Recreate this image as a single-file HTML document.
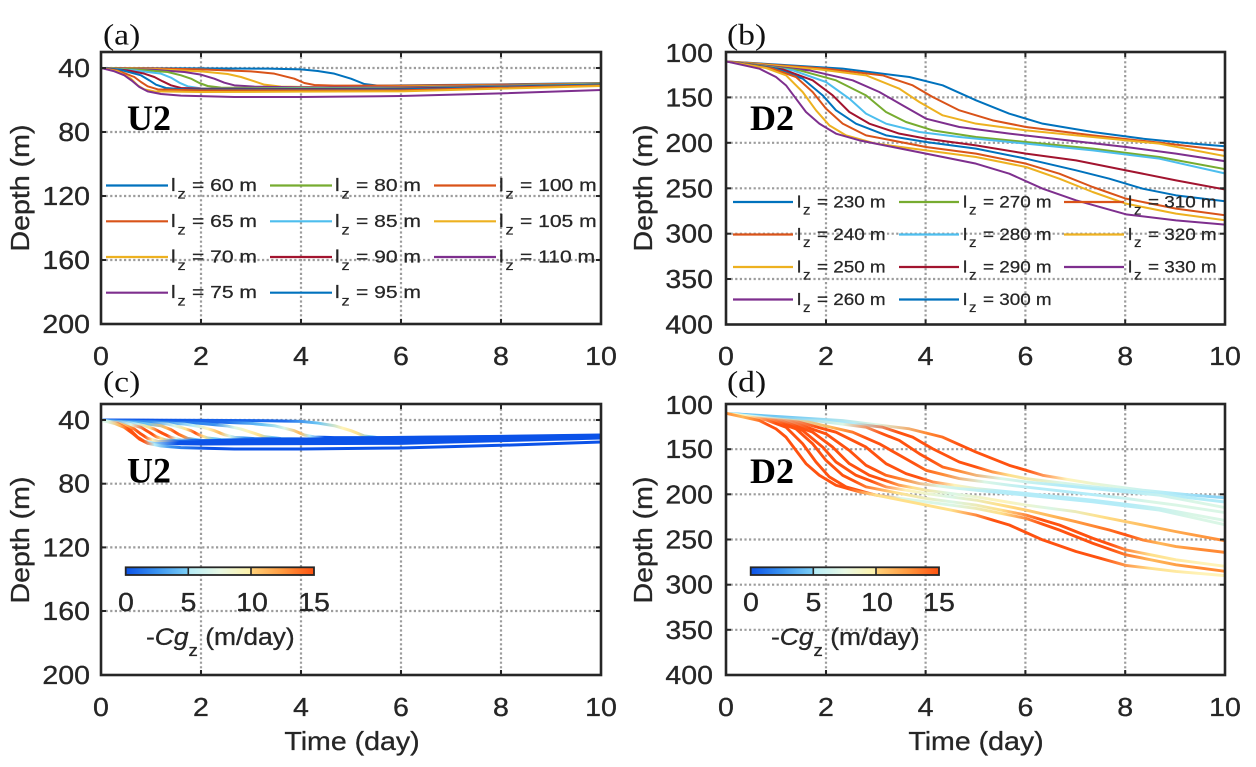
<!DOCTYPE html>
<html><head><meta charset="utf-8"><style>
html,body{margin:0;padding:0;background:#fff;}
svg{display:block;}
.tk{font-family:"Liberation Sans",Arial,sans-serif;font-size:25.5px;fill:#262626;stroke:#262626;stroke-width:0.3;}
.lg{font-family:"Liberation Sans",Arial,sans-serif;font-size:18px;fill:#262626;stroke:#262626;stroke-width:0.25;}
.lgs{font-family:"Liberation Sans",Arial,sans-serif;font-size:14px;fill:#262626;stroke:#262626;stroke-width:0.2;}
.lb{font-family:"Liberation Sans",Arial,sans-serif;font-size:17px;fill:#262626;stroke:#262626;stroke-width:0.25;}
.lbs{font-family:"Liberation Sans",Arial,sans-serif;font-size:13.5px;fill:#262626;stroke:#262626;stroke-width:0.2;}
.pl{font-family:"Liberation Serif","Times New Roman",serif;font-size:30px;fill:#111;}
.bd{font-family:"Liberation Serif","Times New Roman",serif;font-size:36px;font-weight:bold;fill:#000;}
.grid line{stroke:#9c9c9c;stroke-width:2.2;stroke-dasharray:2.2 2.4;}
.tkm line{stroke:#262626;stroke-width:2;}
.cv{fill:none;stroke-linejoin:round;stroke-linecap:butt;}
</style></head><body>
<svg width="1256" height="767" viewBox="0 0 1256 767" xmlns="http://www.w3.org/2000/svg">
<defs>
<clipPath id="ca"><rect x="101" y="52" width="500" height="272"/></clipPath>
<clipPath id="cb"><rect x="726" y="52" width="499" height="272.5"/></clipPath>
<clipPath id="cc"><rect x="101" y="404" width="500" height="271"/></clipPath>
<clipPath id="cd"><rect x="726" y="404" width="499" height="271"/></clipPath>
<linearGradient id="cb1" x1="0" x2="1" y1="0" y2="0"><stop offset="0" stop-color="#0b52e8"/><stop offset="0.5" stop-color="#3a93f0"/><stop offset="1" stop-color="#7ccff6"/></linearGradient>
<linearGradient id="cb2" x1="0" x2="1" y1="0" y2="0"><stop offset="0" stop-color="#b4ecf8"/><stop offset="0.5" stop-color="#e8f8e4"/><stop offset="1" stop-color="#fff2a8"/></linearGradient>
<linearGradient id="cb3" x1="0" x2="1" y1="0" y2="0"><stop offset="0" stop-color="#ffd27a"/><stop offset="0.5" stop-color="#ff9a40"/><stop offset="1" stop-color="#ff5210"/></linearGradient>
<linearGradient id="g60" gradientUnits="userSpaceOnUse" x1="0" y1="0" x2="1500" y2="0"><stop offset="0" stop-color="#0b52e8"/><stop offset=".367" stop-color="#1f6cec"/><stop offset=".433" stop-color="#6cc6f4"/><stop offset=".483" stop-color="#fff3b8"/><stop offset=".513" stop-color="#ffe08a"/><stop offset=".54" stop-color="#6cc6f4"/><stop offset=".573" stop-color="#0b52e8"/><stop offset="1" stop-color="#0b52e8"/></linearGradient>
<linearGradient id="g65" gradientUnits="userSpaceOnUse" x1="0" y1="0" x2="1500" y2="0"><stop offset="0" stop-color="#0b52e8"/><stop offset=".1" stop-color="#0b52e8"/><stop offset=".25" stop-color="#1f6cec"/><stop offset=".323" stop-color="#6cc6f4"/><stop offset=".367" stop-color="#daf6e6"/><stop offset=".397" stop-color="#ffb85a"/><stop offset=".417" stop-color="#b4ecf8"/><stop offset=".447" stop-color="#0b52e8"/><stop offset="1" stop-color="#0b52e8"/></linearGradient>
<linearGradient id="g70" gradientUnits="userSpaceOnUse" x1="0" y1="0" x2="1500" y2="0"><stop offset="0" stop-color="#0b52e8"/><stop offset=".05" stop-color="#0b52e8"/><stop offset=".15" stop-color="#1f6cec"/><stop offset=".227" stop-color="#3a93f0"/><stop offset=".267" stop-color="#daf6e6"/><stop offset=".293" stop-color="#fff3b8"/><stop offset=".317" stop-color="#ffe08a"/><stop offset=".343" stop-color="#6cc6f4"/><stop offset=".4" stop-color="#0b52e8"/><stop offset="1" stop-color="#0b52e8"/></linearGradient>
<linearGradient id="g75" gradientUnits="userSpaceOnUse" x1="0" y1="0" x2="1500" y2="0"><stop offset="0" stop-color="#1f6cec"/><stop offset=".05" stop-color="#1f6cec"/><stop offset=".133" stop-color="#3a93f0"/><stop offset=".183" stop-color="#b4ecf8"/><stop offset=".213" stop-color="#fff3b8"/><stop offset=".237" stop-color="#ffb85a"/><stop offset=".257" stop-color="#daf6e6"/><stop offset=".287" stop-color="#3a93f0"/><stop offset=".333" stop-color="#0b52e8"/><stop offset="1" stop-color="#0b52e8"/></linearGradient>
<linearGradient id="g80" gradientUnits="userSpaceOnUse" x1="0" y1="0" x2="1500" y2="0"><stop offset="0" stop-color="#1f6cec"/><stop offset=".033" stop-color="#1f6cec"/><stop offset=".1" stop-color="#3a93f0"/><stop offset=".147" stop-color="#daf6e6"/><stop offset=".17" stop-color="#ffe08a"/><stop offset=".188" stop-color="#ff5210"/><stop offset=".205" stop-color="#ffe08a"/><stop offset=".227" stop-color="#6cc6f4"/><stop offset=".28" stop-color="#0b52e8"/><stop offset="1" stop-color="#0b52e8"/></linearGradient>
<linearGradient id="g85" gradientUnits="userSpaceOnUse" x1="0" y1="0" x2="1500" y2="0"><stop offset="0" stop-color="#3a93f0"/><stop offset=".033" stop-color="#3a93f0"/><stop offset=".093" stop-color="#6cc6f4"/><stop offset=".13" stop-color="#ffb85a"/><stop offset=".148" stop-color="#ff5210"/><stop offset=".165" stop-color="#ff8a35"/><stop offset=".187" stop-color="#6cc6f4"/><stop offset=".233" stop-color="#0b52e8"/><stop offset="1" stop-color="#0b52e8"/></linearGradient>
<linearGradient id="g90" gradientUnits="userSpaceOnUse" x1="0" y1="0" x2="1500" y2="0"><stop offset="0" stop-color="#3a93f0"/><stop offset=".027" stop-color="#3a93f0"/><stop offset=".07" stop-color="#b4ecf8"/><stop offset=".097" stop-color="#ffe08a"/><stop offset=".115" stop-color="#ff5210"/><stop offset=".132" stop-color="#ff5210"/><stop offset=".15" stop-color="#daf6e6"/><stop offset=".18" stop-color="#1f6cec"/><stop offset=".233" stop-color="#0b52e8"/><stop offset="1" stop-color="#0b52e8"/></linearGradient>
<linearGradient id="g95" gradientUnits="userSpaceOnUse" x1="0" y1="0" x2="1500" y2="0"><stop offset="0" stop-color="#3a93f0"/><stop offset=".02" stop-color="#3a93f0"/><stop offset=".06" stop-color="#daf6e6"/><stop offset=".088" stop-color="#ff5210"/><stop offset=".103" stop-color="#ff5210"/><stop offset=".12" stop-color="#ffe08a"/><stop offset=".148" stop-color="#3a93f0"/><stop offset=".2" stop-color="#0b52e8"/><stop offset="1" stop-color="#0b52e8"/></linearGradient>
<linearGradient id="g100" gradientUnits="userSpaceOnUse" x1="0" y1="0" x2="1500" y2="0"><stop offset="0" stop-color="#b4ecf8"/><stop offset=".017" stop-color="#b4ecf8"/><stop offset=".05" stop-color="#ffb85a"/><stop offset=".073" stop-color="#ff5210"/><stop offset=".087" stop-color="#ff5210"/><stop offset=".103" stop-color="#fff3b8"/><stop offset=".157" stop-color="#0b52e8"/><stop offset="1" stop-color="#0b52e8"/></linearGradient>
<linearGradient id="g105" gradientUnits="userSpaceOnUse" x1="0" y1="0" x2="1500" y2="0"><stop offset="0" stop-color="#b4ecf8"/><stop offset=".017" stop-color="#b4ecf8"/><stop offset=".047" stop-color="#ff5210"/><stop offset=".08" stop-color="#ff5210"/><stop offset=".097" stop-color="#b4ecf8"/><stop offset=".153" stop-color="#0b52e8"/><stop offset="1" stop-color="#0b52e8"/></linearGradient>
<linearGradient id="g110" gradientUnits="userSpaceOnUse" x1="0" y1="0" x2="1500" y2="0"><stop offset="0" stop-color="#daf6e6"/><stop offset=".013" stop-color="#daf6e6"/><stop offset=".037" stop-color="#ffb85a"/><stop offset=".055" stop-color="#ff5210"/><stop offset=".085" stop-color="#ff5210"/><stop offset=".107" stop-color="#b4ecf8"/><stop offset=".14" stop-color="#3a93f0"/><stop offset=".213" stop-color="#0b52e8"/><stop offset="1" stop-color="#0b52e8"/></linearGradient>
<linearGradient id="h230" gradientUnits="userSpaceOnUse" x1="0" y1="0" x2="1500" y2="0"><stop offset="0" stop-color="#6cc6f4"/><stop offset=".117" stop-color="#6cc6f4"/><stop offset=".3" stop-color="#daf6e6"/><stop offset=".4" stop-color="#ff8a35"/><stop offset=".467" stop-color="#ff5210"/><stop offset=".6" stop-color="#ff5210"/><stop offset=".683" stop-color="#fff3b8"/><stop offset=".783" stop-color="#daf6e6"/><stop offset=".883" stop-color="#b4ecf8"/><stop offset=".967" stop-color="#8fd6f6"/><stop offset="1" stop-color="#8fd6f6"/></linearGradient>
<linearGradient id="h240" gradientUnits="userSpaceOnUse" x1="0" y1="0" x2="1500" y2="0"><stop offset="0" stop-color="#6cc6f4"/><stop offset=".1" stop-color="#6cc6f4"/><stop offset=".257" stop-color="#b4ecf8"/><stop offset=".343" stop-color="#ff5210"/><stop offset=".5" stop-color="#ff5210"/><stop offset=".567" stop-color="#ffe08a"/><stop offset=".667" stop-color="#daf6e6"/><stop offset=".8" stop-color="#b4ecf8"/><stop offset=".933" stop-color="#b4ecf8"/><stop offset="1" stop-color="#b4ecf8"/></linearGradient>
<linearGradient id="h250" gradientUnits="userSpaceOnUse" x1="0" y1="0" x2="1500" y2="0"><stop offset="0" stop-color="#6cc6f4"/><stop offset=".093" stop-color="#6cc6f4"/><stop offset=".233" stop-color="#daf6e6"/><stop offset=".313" stop-color="#ff5210"/><stop offset=".41" stop-color="#ff5210"/><stop offset=".467" stop-color="#ff8a35"/><stop offset=".55" stop-color="#daf6e6"/><stop offset=".667" stop-color="#b4ecf8"/><stop offset=".8" stop-color="#b4ecf8"/><stop offset=".933" stop-color="#daf6e6"/><stop offset="1" stop-color="#daf6e6"/></linearGradient>
<linearGradient id="h260" gradientUnits="userSpaceOnUse" x1="0" y1="0" x2="1500" y2="0"><stop offset="0" stop-color="#b4ecf8"/><stop offset=".083" stop-color="#b4ecf8"/><stop offset=".21" stop-color="#ffb85a"/><stop offset=".28" stop-color="#ff5210"/><stop offset=".377" stop-color="#ff5210"/><stop offset=".433" stop-color="#ff8a35"/><stop offset=".517" stop-color="#daf6e6"/><stop offset=".617" stop-color="#b4ecf8"/><stop offset=".733" stop-color="#b4ecf8"/><stop offset=".85" stop-color="#daf6e6"/><stop offset=".95" stop-color="#daf6e6"/><stop offset="1" stop-color="#daf6e6"/></linearGradient>
<linearGradient id="h270" gradientUnits="userSpaceOnUse" x1="0" y1="0" x2="1500" y2="0"><stop offset="0" stop-color="#daf6e6"/><stop offset=".073" stop-color="#daf6e6"/><stop offset=".183" stop-color="#ff5210"/><stop offset=".387" stop-color="#ff5210"/><stop offset=".457" stop-color="#fff3b8"/><stop offset=".55" stop-color="#b4ecf8"/><stop offset=".667" stop-color="#b4ecf8"/><stop offset=".8" stop-color="#b4ecf8"/><stop offset=".933" stop-color="#daf6e6"/><stop offset="1" stop-color="#daf6e6"/></linearGradient>
<linearGradient id="h280" gradientUnits="userSpaceOnUse" x1="0" y1="0" x2="1500" y2="0"><stop offset="0" stop-color="#daf6e6"/><stop offset=".067" stop-color="#daf6e6"/><stop offset=".167" stop-color="#ff5210"/><stop offset=".3" stop-color="#ff5210"/><stop offset=".353" stop-color="#ff8a35"/><stop offset=".427" stop-color="#daf6e6"/><stop offset=".533" stop-color="#b4ecf8"/><stop offset=".667" stop-color="#b4ecf8"/><stop offset=".8" stop-color="#b4ecf8"/><stop offset=".933" stop-color="#daf6e6"/><stop offset="1" stop-color="#daf6e6"/></linearGradient>
<linearGradient id="h290" gradientUnits="userSpaceOnUse" x1="0" y1="0" x2="1500" y2="0"><stop offset="0" stop-color="#daf6e6"/><stop offset=".057" stop-color="#daf6e6"/><stop offset=".143" stop-color="#ff5210"/><stop offset=".317" stop-color="#ff5210"/><stop offset=".373" stop-color="#ffe08a"/><stop offset=".45" stop-color="#daf6e6"/><stop offset=".55" stop-color="#fff3b8"/><stop offset=".65" stop-color="#daf6e6"/><stop offset=".75" stop-color="#ffe08a"/><stop offset=".85" stop-color="#ffb85a"/><stop offset="1" stop-color="#ff8a35"/></linearGradient>
<linearGradient id="h300" gradientUnits="userSpaceOnUse" x1="0" y1="0" x2="1500" y2="0"><stop offset="0" stop-color="#daf6e6"/><stop offset=".05" stop-color="#daf6e6"/><stop offset=".127" stop-color="#ff5210"/><stop offset=".29" stop-color="#ff5210"/><stop offset=".36" stop-color="#fff3b8"/><stop offset=".45" stop-color="#daf6e6"/><stop offset=".55" stop-color="#ffe08a"/><stop offset=".65" stop-color="#ffb85a"/><stop offset=".733" stop-color="#ff8a35"/><stop offset=".8" stop-color="#ff5210"/><stop offset=".867" stop-color="#ffb85a"/><stop offset=".95" stop-color="#ff8a35"/><stop offset="1" stop-color="#ff8a35"/></linearGradient>
<linearGradient id="h310" gradientUnits="userSpaceOnUse" x1="0" y1="0" x2="1500" y2="0"><stop offset="0" stop-color="#fff3b8"/><stop offset=".047" stop-color="#fff3b8"/><stop offset=".117" stop-color="#ff5210"/><stop offset=".257" stop-color="#ff5210"/><stop offset=".34" stop-color="#ffe08a"/><stop offset=".45" stop-color="#daf6e6"/><stop offset=".55" stop-color="#ffe08a"/><stop offset=".633" stop-color="#ff5210"/><stop offset=".767" stop-color="#ff5210"/><stop offset=".85" stop-color="#ffe08a"/><stop offset=".95" stop-color="#fff3b8"/><stop offset="1" stop-color="#fff3b8"/></linearGradient>
<linearGradient id="h320" gradientUnits="userSpaceOnUse" x1="0" y1="0" x2="1500" y2="0"><stop offset="0" stop-color="#fff3b8"/><stop offset=".04" stop-color="#fff3b8"/><stop offset=".1" stop-color="#ff5210"/><stop offset=".27" stop-color="#ff5210"/><stop offset=".35" stop-color="#daf6e6"/><stop offset=".45" stop-color="#daf6e6"/><stop offset=".55" stop-color="#ffe08a"/><stop offset=".633" stop-color="#ff5210"/><stop offset=".767" stop-color="#ff5210"/><stop offset=".85" stop-color="#ffb85a"/><stop offset=".95" stop-color="#ff8a35"/><stop offset="1" stop-color="#ff8a35"/></linearGradient>
<linearGradient id="h330" gradientUnits="userSpaceOnUse" x1="0" y1="0" x2="1500" y2="0"><stop offset="0" stop-color="#ff8a35"/><stop offset=".033" stop-color="#ffb85a"/><stop offset=".083" stop-color="#ff5210"/><stop offset=".243" stop-color="#ff5210"/><stop offset=".3" stop-color="#ffe08a"/><stop offset=".45" stop-color="#ffe08a"/><stop offset=".533" stop-color="#ff5210"/><stop offset=".75" stop-color="#ff5210"/><stop offset=".85" stop-color="#ffe08a"/><stop offset=".95" stop-color="#fff3b8"/><stop offset="1" stop-color="#fff3b8"/></linearGradient>
</defs>

<rect width="1256" height="767" fill="#fff"/>

<g class="grid">
  <line x1="201" y1="52" x2="201" y2="324"/><line x1="301" y1="52" x2="301" y2="324"/><line x1="401" y1="52" x2="401" y2="324"/><line x1="501" y1="52" x2="501" y2="324"/>
  <line x1="101" y1="68" x2="601" y2="68"/><line x1="101" y1="132" x2="601" y2="132"/><line x1="101" y1="196" x2="601" y2="196"/><line x1="101" y1="260" x2="601" y2="260"/>
  <line x1="826" y1="52" x2="826" y2="324.5"/><line x1="925.6" y1="52" x2="925.6" y2="324.5"/><line x1="1025.4" y1="52" x2="1025.4" y2="324.5"/><line x1="1125.2" y1="52" x2="1125.2" y2="324.5"/>
  <line x1="726" y1="97.4" x2="1225" y2="97.4"/><line x1="726" y1="142.8" x2="1225" y2="142.8"/><line x1="726" y1="188.3" x2="1225" y2="188.3"/><line x1="726" y1="233.7" x2="1225" y2="233.7"/><line x1="726" y1="279" x2="1225" y2="279"/>
  <line x1="201" y1="404" x2="201" y2="675"/><line x1="301" y1="404" x2="301" y2="675"/><line x1="401" y1="404" x2="401" y2="675"/><line x1="501" y1="404" x2="501" y2="675"/>
  <line x1="101" y1="420" x2="601" y2="420"/><line x1="101" y1="483.7" x2="601" y2="483.7"/><line x1="101" y1="547.4" x2="601" y2="547.4"/><line x1="101" y1="611" x2="601" y2="611"/>
  <line x1="826" y1="404" x2="826" y2="675"/><line x1="925.6" y1="404" x2="925.6" y2="675"/><line x1="1025.4" y1="404" x2="1025.4" y2="675"/><line x1="1125.2" y1="404" x2="1125.2" y2="675"/>
  <line x1="726" y1="449.2" x2="1225" y2="449.2"/><line x1="726" y1="494.3" x2="1225" y2="494.3"/><line x1="726" y1="539.5" x2="1225" y2="539.5"/><line x1="726" y1="584.7" x2="1225" y2="584.7"/><line x1="726" y1="629.8" x2="1225" y2="629.8"/>
</g>

<g clip-path="url(#ca)"><g transform="translate(101,62) scale(0.33333)">
<path class="cv" vector-effect="non-scaling-stroke" stroke-width="2" stroke="#0072BD" d="M0 18 L300 19 L500 20 L600 22 L650 27 L700 35 L750 50 L790 66 L830 71 L900 70 L1200 67 L1500 63"/>
<path class="cv" vector-effect="non-scaling-stroke" stroke-width="2" stroke="#D95319" d="M0 18 L150 19 L300 22 L450 28 L520 35 L580 50 L610 63 L640 69 L700 71 L900 71 L1200 68 L1500 64"/>
<path class="cv" vector-effect="non-scaling-stroke" stroke-width="2" stroke="#EDB120" d="M0 18 L150 21 L300 28 L380 36 L420 45 L460 58 L490 68 L540 74 L700 76 L900 74 L1200 70 L1500 65"/>
<path class="cv" vector-effect="non-scaling-stroke" stroke-width="2" stroke="#7E2F8E" d="M0 18 L150 23 L250 30 L300 38 L340 50 L370 62 L400 70 L460 74 L600 76 L900 76 L1200 71 L1500 66"/>
<path class="cv" vector-effect="non-scaling-stroke" stroke-width="2" stroke="#77AC30" d="M0 18 L100 22 L200 30 L240 40 L270 50 L295 63 L320 72 L360 77 L500 78 L900 78 L1200 72 L1500 66"/>
<path class="cv" vector-effect="non-scaling-stroke" stroke-width="2" stroke="#4DBEEE" d="M0 18 L100 25 L180 35 L210 47 L235 62 L260 73 L300 79 L500 80 L900 79 L1200 73 L1500 67"/>
<path class="cv" vector-effect="non-scaling-stroke" stroke-width="2" stroke="#A2142F" d="M0 18 L80 25 L130 35 L160 45 L185 58 L210 70 L240 78 L300 80 L600 81 L900 80 L1200 74 L1500 68"/>
<path class="cv" vector-effect="non-scaling-stroke" stroke-width="2" stroke="#0072BD" d="M0 18 L60 24 L120 40 L145 55 L165 68 L195 78 L250 82 L600 83 L900 82 L1200 75 L1500 68"/>
<path class="cv" vector-effect="non-scaling-stroke" stroke-width="2" stroke="#D95319" d="M0 18 L50 26 L100 45 L120 60 L140 73 L170 82 L300 85 L600 85 L900 85 L1200 77 L1500 70"/>
<path class="cv" vector-effect="non-scaling-stroke" stroke-width="2" stroke="#EDB120" d="M0 18 L50 28 L90 50 L110 70 L130 82 L160 88 L300 90 L600 89 L900 88 L1200 80 L1500 72"/>
<path class="cv" vector-effect="non-scaling-stroke" stroke-width="2" stroke="#7E2F8E" d="M0 18 L40 28 L70 40 L95 58 L115 75 L140 88 L180 96 L240 101 L400 105 L600 105 L900 102 L1200 94 L1500 84"/>
</g></g>

<g clip-path="url(#cc)"><g transform="translate(101,414.1) scale(0.33333,0.3320)">
<path class="cv" vector-effect="non-scaling-stroke" stroke-width="3" stroke="url(#g60)" d="M0 18 L300 19 L500 20 L600 22 L650 27 L700 35 L750 50 L790 66 L830 71 L900 70 L1200 67 L1500 63"/>
<path class="cv" vector-effect="non-scaling-stroke" stroke-width="3" stroke="url(#g65)" d="M0 18 L150 19 L300 22 L450 28 L520 35 L580 50 L610 63 L640 69 L700 71 L900 71 L1200 68 L1500 64"/>
<path class="cv" vector-effect="non-scaling-stroke" stroke-width="3" stroke="url(#g70)" d="M0 18 L150 21 L300 28 L380 36 L420 45 L460 58 L490 68 L540 74 L700 76 L900 74 L1200 70 L1500 65"/>
<path class="cv" vector-effect="non-scaling-stroke" stroke-width="3" stroke="url(#g75)" d="M0 18 L150 23 L250 30 L300 38 L340 50 L370 62 L400 70 L460 74 L600 76 L900 76 L1200 71 L1500 66"/>
<path class="cv" vector-effect="non-scaling-stroke" stroke-width="3" stroke="url(#g80)" d="M0 18 L100 22 L200 30 L240 40 L270 50 L295 63 L320 72 L360 77 L500 78 L900 78 L1200 72 L1500 66"/>
<path class="cv" vector-effect="non-scaling-stroke" stroke-width="3" stroke="url(#g85)" d="M0 18 L100 25 L180 35 L210 47 L235 62 L260 73 L300 79 L500 80 L900 79 L1200 73 L1500 67"/>
<path class="cv" vector-effect="non-scaling-stroke" stroke-width="3" stroke="url(#g90)" d="M0 18 L80 25 L130 35 L160 45 L185 58 L210 70 L240 78 L300 80 L600 81 L900 80 L1200 74 L1500 68"/>
<path class="cv" vector-effect="non-scaling-stroke" stroke-width="3" stroke="url(#g95)" d="M0 18 L60 24 L120 40 L145 55 L165 68 L195 78 L250 82 L600 83 L900 82 L1200 75 L1500 68"/>
<path class="cv" vector-effect="non-scaling-stroke" stroke-width="3" stroke="url(#g100)" d="M0 18 L50 26 L100 45 L120 60 L140 73 L170 82 L300 85 L600 85 L900 85 L1200 77 L1500 70"/>
<path class="cv" vector-effect="non-scaling-stroke" stroke-width="3" stroke="url(#g105)" d="M0 18 L50 28 L90 50 L110 70 L130 82 L160 88 L300 90 L600 89 L900 88 L1200 80 L1500 72"/>
<path class="cv" vector-effect="non-scaling-stroke" stroke-width="3" stroke="url(#g110)" d="M0 18 L40 28 L70 40 L95 58 L115 75 L140 88 L180 96 L240 101 L400 105 L600 105 L900 102 L1200 94 L1500 84"/>
</g></g>

<g clip-path="url(#cb)"><g transform="translate(726,52) scale(0.33333)">
<path class="cv" vector-effect="non-scaling-stroke" stroke-width="2" stroke="#0072BD" d="M0 28 L350 50 L550 75 L650 100 L750 145 L850 185 L950 215 L1100 240 L1250 260 L1400 275 L1500 283"/>
<path class="cv" vector-effect="non-scaling-stroke" stroke-width="2" stroke="#D95319" d="M0 28 L300 50 L470 70 L560 100 L620 135 L700 175 L800 205 L900 225 L1100 250 L1300 272 L1500 296"/>
<path class="cv" vector-effect="non-scaling-stroke" stroke-width="2" stroke="#EDB120" d="M0 28 L280 52 L420 70 L520 110 L580 150 L650 190 L750 215 L900 235 L1100 255 L1300 275 L1500 313"/>
<path class="cv" vector-effect="non-scaling-stroke" stroke-width="2" stroke="#7E2F8E" d="M0 28 L250 55 L380 85 L460 120 L530 160 L600 200 L700 225 L850 245 L1000 262 L1200 285 L1350 305 L1500 328"/>
<path class="cv" vector-effect="non-scaling-stroke" stroke-width="2" stroke="#77AC30" d="M0 28 L220 55 L330 85 L420 130 L480 180 L540 210 L620 235 L750 255 L900 270 L1100 290 L1300 315 L1500 352"/>
<path class="cv" vector-effect="non-scaling-stroke" stroke-width="2" stroke="#4DBEEE" d="M0 28 L200 55 L300 90 L370 140 L420 185 L480 215 L580 240 L700 255 L900 275 L1100 295 L1300 320 L1500 365"/>
<path class="cv" vector-effect="non-scaling-stroke" stroke-width="2" stroke="#A2142F" d="M0 28 L170 52 L260 85 L320 130 L370 180 L430 215 L520 245 L600 260 L750 280 L900 305 L1050 325 L1200 355 L1350 385 L1500 413"/>
<path class="cv" vector-effect="non-scaling-stroke" stroke-width="2" stroke="#0072BD" d="M0 28 L150 50 L230 80 L290 130 L330 175 L390 215 L480 250 L600 270 L750 290 L900 320 L1050 355 L1150 380 L1250 410 L1350 430 L1500 448"/>
<path class="cv" vector-effect="non-scaling-stroke" stroke-width="2" stroke="#D95319" d="M0 28 L140 50 L210 75 L260 120 L300 170 L350 215 L420 250 L600 285 L750 305 L900 335 L1000 365 L1100 405 L1200 440 L1350 470 L1500 490"/>
<path class="cv" vector-effect="non-scaling-stroke" stroke-width="2" stroke="#EDB120" d="M0 28 L120 48 L180 70 L230 120 L270 175 L310 220 L360 250 L450 275 L600 295 L750 315 L900 345 L1000 380 L1100 420 L1200 455 L1350 485 L1500 505"/>
<path class="cv" vector-effect="non-scaling-stroke" stroke-width="2" stroke="#7E2F8E" d="M0 28 L100 50 L150 75 L180 100 L210 140 L240 180 L280 215 L330 245 L400 265 L500 285 L600 305 L750 335 L850 365 L950 410 L1050 445 L1200 487 L1350 505 L1500 518"/>
</g></g>

<g clip-path="url(#cd)"><g transform="translate(726,404) scale(0.33333,0.3315)">
<path class="cv" vector-effect="non-scaling-stroke" stroke-width="2.9" stroke="url(#h230)" d="M0 28 L350 50 L550 75 L650 100 L750 145 L850 185 L950 215 L1100 240 L1250 260 L1400 275 L1500 283"/>
<path class="cv" vector-effect="non-scaling-stroke" stroke-width="2.9" stroke="url(#h240)" d="M0 28 L300 50 L470 70 L560 100 L620 135 L700 175 L800 205 L900 225 L1100 250 L1300 272 L1500 296"/>
<path class="cv" vector-effect="non-scaling-stroke" stroke-width="2.9" stroke="url(#h250)" d="M0 28 L280 52 L420 70 L520 110 L580 150 L650 190 L750 215 L900 235 L1100 255 L1300 275 L1500 313"/>
<path class="cv" vector-effect="non-scaling-stroke" stroke-width="2.9" stroke="url(#h260)" d="M0 28 L250 55 L380 85 L460 120 L530 160 L600 200 L700 225 L850 245 L1000 262 L1200 285 L1350 305 L1500 328"/>
<path class="cv" vector-effect="non-scaling-stroke" stroke-width="2.9" stroke="url(#h270)" d="M0 28 L220 55 L330 85 L420 130 L480 180 L540 210 L620 235 L750 255 L900 270 L1100 290 L1300 315 L1500 352"/>
<path class="cv" vector-effect="non-scaling-stroke" stroke-width="2.9" stroke="url(#h280)" d="M0 28 L200 55 L300 90 L370 140 L420 185 L480 215 L580 240 L700 255 L900 275 L1100 295 L1300 320 L1500 365"/>
<path class="cv" vector-effect="non-scaling-stroke" stroke-width="2.9" stroke="url(#h290)" d="M0 28 L170 52 L260 85 L320 130 L370 180 L430 215 L520 245 L600 260 L750 280 L900 305 L1050 325 L1200 355 L1350 385 L1500 413"/>
<path class="cv" vector-effect="non-scaling-stroke" stroke-width="2.9" stroke="url(#h300)" d="M0 28 L150 50 L230 80 L290 130 L330 175 L390 215 L480 250 L600 270 L750 290 L900 320 L1050 355 L1150 380 L1250 410 L1350 430 L1500 448"/>
<path class="cv" vector-effect="non-scaling-stroke" stroke-width="2.9" stroke="url(#h310)" d="M0 28 L140 50 L210 75 L260 120 L300 170 L350 215 L420 250 L600 285 L750 305 L900 335 L1000 365 L1100 405 L1200 440 L1350 470 L1500 490"/>
<path class="cv" vector-effect="non-scaling-stroke" stroke-width="2.9" stroke="url(#h320)" d="M0 28 L120 48 L180 70 L230 120 L270 175 L310 220 L360 250 L450 275 L600 295 L750 315 L900 345 L1000 380 L1100 420 L1200 455 L1350 485 L1500 505"/>
<path class="cv" vector-effect="non-scaling-stroke" stroke-width="2.9" stroke="url(#h330)" d="M0 28 L100 50 L150 75 L180 100 L210 140 L240 180 L280 215 L330 245 L400 265 L500 285 L600 305 L750 335 L850 365 L950 410 L1050 445 L1200 487 L1350 505 L1500 518"/>
</g></g>

<g stroke-width="2.2">
  <line x1="106" y1="185.5" x2="168" y2="185.5" stroke="#0072BD"/>
  <line x1="106" y1="221.3" x2="168" y2="221.3" stroke="#D95319"/>
  <line x1="106" y1="257" x2="168" y2="257" stroke="#EDB120"/>
  <line x1="106" y1="292.7" x2="168" y2="292.7" stroke="#7E2F8E"/>
  <line x1="270" y1="185.5" x2="332" y2="185.5" stroke="#77AC30"/>
  <line x1="270" y1="221.3" x2="332" y2="221.3" stroke="#4DBEEE"/>
  <line x1="270" y1="257" x2="332" y2="257" stroke="#A2142F"/>
  <line x1="270" y1="292.7" x2="332" y2="292.7" stroke="#0072BD"/>
  <line x1="434" y1="185.5" x2="496" y2="185.5" stroke="#D95319"/>
  <line x1="434" y1="221.3" x2="496" y2="221.3" stroke="#EDB120"/>
  <line x1="434" y1="257" x2="496" y2="257" stroke="#7E2F8E"/>
</g>
<g>
  <text class="lg" transform="translate(171,191) scale(1.17,1)">l</text><text class="lgs" transform="translate(177.5,198.5) scale(1.17,1)">z</text><text class="lg" transform="translate(192,191) scale(1.17,1)">= 60 m</text>
  <text class="lg" transform="translate(171,226.8) scale(1.17,1)">l</text><text class="lgs" transform="translate(177.5,234.3) scale(1.17,1)">z</text><text class="lg" transform="translate(192,226.8) scale(1.17,1)">= 65 m</text>
  <text class="lg" transform="translate(171,262.5) scale(1.17,1)">l</text><text class="lgs" transform="translate(177.5,270) scale(1.17,1)">z</text><text class="lg" transform="translate(192,262.5) scale(1.17,1)">= 70 m</text>
  <text class="lg" transform="translate(171,298.2) scale(1.17,1)">l</text><text class="lgs" transform="translate(177.5,305.7) scale(1.17,1)">z</text><text class="lg" transform="translate(192,298.2) scale(1.17,1)">= 75 m</text>
  <text class="lg" transform="translate(335,191) scale(1.17,1)">l</text><text class="lgs" transform="translate(341.5,198.5) scale(1.17,1)">z</text><text class="lg" transform="translate(356,191) scale(1.17,1)">= 80 m</text>
  <text class="lg" transform="translate(335,226.8) scale(1.17,1)">l</text><text class="lgs" transform="translate(341.5,234.3) scale(1.17,1)">z</text><text class="lg" transform="translate(356,226.8) scale(1.17,1)">= 85 m</text>
  <text class="lg" transform="translate(335,262.5) scale(1.17,1)">l</text><text class="lgs" transform="translate(341.5,270) scale(1.17,1)">z</text><text class="lg" transform="translate(356,262.5) scale(1.17,1)">= 90 m</text>
  <text class="lg" transform="translate(335,298.2) scale(1.17,1)">l</text><text class="lgs" transform="translate(341.5,305.7) scale(1.17,1)">z</text><text class="lg" transform="translate(356,298.2) scale(1.17,1)">= 95 m</text>
  <text class="lg" transform="translate(499,191) scale(1.17,1)">l</text><text class="lgs" transform="translate(505.5,198.5) scale(1.17,1)">z</text><text class="lg" transform="translate(520,191) scale(1.17,1)">= 100 m</text>
  <text class="lg" transform="translate(499,226.8) scale(1.17,1)">l</text><text class="lgs" transform="translate(505.5,234.3) scale(1.17,1)">z</text><text class="lg" transform="translate(520,226.8) scale(1.17,1)">= 105 m</text>
  <text class="lg" transform="translate(499,262.5) scale(1.17,1)">l</text><text class="lgs" transform="translate(505.5,270) scale(1.17,1)">z</text><text class="lg" transform="translate(520,262.5) scale(1.17,1)">= 110 m</text>
</g>

<g stroke-width="2.2">
  <line x1="733" y1="202" x2="793" y2="202" stroke="#0072BD"/>
  <line x1="733" y1="234.5" x2="793" y2="234.5" stroke="#D95319"/>
  <line x1="733" y1="267" x2="793" y2="267" stroke="#EDB120"/>
  <line x1="733" y1="299.5" x2="793" y2="299.5" stroke="#7E2F8E"/>
  <line x1="899" y1="202" x2="959" y2="202" stroke="#77AC30"/>
  <line x1="899" y1="234.5" x2="959" y2="234.5" stroke="#4DBEEE"/>
  <line x1="899" y1="267" x2="959" y2="267" stroke="#A2142F"/>
  <line x1="899" y1="299.5" x2="959" y2="299.5" stroke="#0072BD"/>
  <line x1="1064" y1="202" x2="1124" y2="202" stroke="#D95319"/>
  <line x1="1064" y1="234.5" x2="1124" y2="234.5" stroke="#EDB120"/>
  <line x1="1064" y1="267" x2="1124" y2="267" stroke="#7E2F8E"/>
</g>
<g>
  <text class="lb" transform="translate(797,207.5) scale(1.11,1)">l</text><text class="lbs" transform="translate(803,214.5) scale(1.11,1)">z</text><text class="lb" transform="translate(817,207.5) scale(1.11,1)">= 230 m</text>
  <text class="lb" transform="translate(797,240) scale(1.11,1)">l</text><text class="lbs" transform="translate(803,247) scale(1.11,1)">z</text><text class="lb" transform="translate(817,240) scale(1.11,1)">= 240 m</text>
  <text class="lb" transform="translate(797,272.5) scale(1.11,1)">l</text><text class="lbs" transform="translate(803,279.5) scale(1.11,1)">z</text><text class="lb" transform="translate(817,272.5) scale(1.11,1)">= 250 m</text>
  <text class="lb" transform="translate(797,305) scale(1.11,1)">l</text><text class="lbs" transform="translate(803,312) scale(1.11,1)">z</text><text class="lb" transform="translate(817,305) scale(1.11,1)">= 260 m</text>
  <text class="lb" transform="translate(963,207.5) scale(1.11,1)">l</text><text class="lbs" transform="translate(969,214.5) scale(1.11,1)">z</text><text class="lb" transform="translate(983,207.5) scale(1.11,1)">= 270 m</text>
  <text class="lb" transform="translate(963,240) scale(1.11,1)">l</text><text class="lbs" transform="translate(969,247) scale(1.11,1)">z</text><text class="lb" transform="translate(983,240) scale(1.11,1)">= 280 m</text>
  <text class="lb" transform="translate(963,272.5) scale(1.11,1)">l</text><text class="lbs" transform="translate(969,279.5) scale(1.11,1)">z</text><text class="lb" transform="translate(983,272.5) scale(1.11,1)">= 290 m</text>
  <text class="lb" transform="translate(963,305) scale(1.11,1)">l</text><text class="lbs" transform="translate(969,312) scale(1.11,1)">z</text><text class="lb" transform="translate(983,305) scale(1.11,1)">= 300 m</text>
  <text class="lb" transform="translate(1128,207.5) scale(1.11,1)">l</text><text class="lbs" transform="translate(1134,214.5) scale(1.11,1)">z</text><text class="lb" transform="translate(1148,207.5) scale(1.11,1)">= 310 m</text>
  <text class="lb" transform="translate(1128,240) scale(1.11,1)">l</text><text class="lbs" transform="translate(1134,247) scale(1.11,1)">z</text><text class="lb" transform="translate(1148,240) scale(1.11,1)">= 320 m</text>
  <text class="lb" transform="translate(1128,272.5) scale(1.11,1)">l</text><text class="lbs" transform="translate(1134,279.5) scale(1.11,1)">z</text><text class="lb" transform="translate(1148,272.5) scale(1.11,1)">= 330 m</text>
</g>

<g>
  <rect x="125.7" y="567.3" width="62.6" height="7.7" fill="url(#cb1)"/>
  <rect x="188.3" y="567.3" width="62.7" height="7.7" fill="url(#cb2)"/>
  <rect x="251" y="567.3" width="63" height="7.7" fill="url(#cb3)"/>
  <rect x="125.7" y="567.3" width="188.3" height="7.7" fill="none" stroke="#262626" stroke-width="1.8"/>
  <line x1="188.3" y1="567.3" x2="188.3" y2="575" stroke="#262626" stroke-width="1.6"/>
  <line x1="251" y1="567.3" x2="251" y2="575" stroke="#262626" stroke-width="1.6"/>

  <rect x="750.7" y="567.3" width="62.6" height="7.7" fill="url(#cb1)"/>
  <rect x="813.3" y="567.3" width="62.7" height="7.7" fill="url(#cb2)"/>
  <rect x="876" y="567.3" width="63" height="7.7" fill="url(#cb3)"/>
  <rect x="750.7" y="567.3" width="188.3" height="7.7" fill="none" stroke="#262626" stroke-width="1.8"/>
  <line x1="813.3" y1="567.3" x2="813.3" y2="575" stroke="#262626" stroke-width="1.6"/>
  <line x1="876" y1="567.3" x2="876" y2="575" stroke="#262626" stroke-width="1.6"/>
</g>
<g class="tk" text-anchor="middle">
  <text transform="translate(126,611) scale(1.12,1)">0</text>
  <text transform="translate(188.5,611) scale(1.12,1)">5</text>
  <text transform="translate(252,611) scale(1.12,1)">10</text>
  <text transform="translate(314,611) scale(1.12,1)">15</text>
  <text transform="translate(751,611) scale(1.12,1)">0</text>
  <text transform="translate(813.5,611) scale(1.12,1)">5</text>
  <text transform="translate(877,611) scale(1.12,1)">10</text>
  <text transform="translate(939,611) scale(1.12,1)">15</text>
</g>
<g font-family="Liberation Sans, Arial, sans-serif" fill="#262626" stroke="#262626" stroke-width="0.3">
  <text transform="translate(146,645) scale(1.1,1)" font-size="24">-<tspan font-style="italic">Cg</tspan><tspan font-size="17" dy="11">z</tspan><tspan dy="-11"> (m/day)</tspan></text>
  <text transform="translate(771,645) scale(1.1,1)" font-size="24">-<tspan font-style="italic">Cg</tspan><tspan font-size="17" dy="11">z</tspan><tspan dy="-11"> (m/day)</tspan></text>
</g>

<g fill="none" stroke="#262626" stroke-width="2.6">
  <rect x="101" y="52" width="500" height="272"/>
  <rect x="726" y="52" width="499" height="272.5"/>
  <rect x="101" y="404" width="500" height="271"/>
  <rect x="726" y="404" width="499" height="271"/>
</g>
<g class="tkm">
  <line x1="201" y1="324" x2="201" y2="319"/><line x1="301" y1="324" x2="301" y2="319"/><line x1="401" y1="324" x2="401" y2="319"/><line x1="501" y1="324" x2="501" y2="319"/>
  <line x1="201" y1="52" x2="201" y2="57"/><line x1="301" y1="52" x2="301" y2="57"/><line x1="401" y1="52" x2="401" y2="57"/><line x1="501" y1="52" x2="501" y2="57"/>
  <line x1="101" y1="68" x2="106" y2="68"/><line x1="101" y1="132" x2="106" y2="132"/><line x1="101" y1="196" x2="106" y2="196"/><line x1="101" y1="260" x2="106" y2="260"/>
  <line x1="601" y1="68" x2="596" y2="68"/><line x1="601" y1="132" x2="596" y2="132"/><line x1="601" y1="196" x2="596" y2="196"/><line x1="601" y1="260" x2="596" y2="260"/>
  <line x1="826" y1="324.5" x2="826" y2="319.5"/><line x1="925.6" y1="324.5" x2="925.6" y2="319.5"/><line x1="1025.4" y1="324.5" x2="1025.4" y2="319.5"/><line x1="1125.2" y1="324.5" x2="1125.2" y2="319.5"/>
  <line x1="826" y1="52" x2="826" y2="57"/><line x1="925.6" y1="52" x2="925.6" y2="57"/><line x1="1025.4" y1="52" x2="1025.4" y2="57"/><line x1="1125.2" y1="52" x2="1125.2" y2="57"/>
  <line x1="726" y1="97.4" x2="731" y2="97.4"/><line x1="726" y1="142.8" x2="731" y2="142.8"/><line x1="726" y1="188.3" x2="731" y2="188.3"/><line x1="726" y1="233.7" x2="731" y2="233.7"/><line x1="726" y1="279" x2="731" y2="279"/>
  <line x1="1225" y1="97.4" x2="1220" y2="97.4"/><line x1="1225" y1="142.8" x2="1220" y2="142.8"/><line x1="1225" y1="188.3" x2="1220" y2="188.3"/><line x1="1225" y1="233.7" x2="1220" y2="233.7"/><line x1="1225" y1="279" x2="1220" y2="279"/>
  <line x1="201" y1="675" x2="201" y2="670"/><line x1="301" y1="675" x2="301" y2="670"/><line x1="401" y1="675" x2="401" y2="670"/><line x1="501" y1="675" x2="501" y2="670"/>
  <line x1="201" y1="404" x2="201" y2="409"/><line x1="301" y1="404" x2="301" y2="409"/><line x1="401" y1="404" x2="401" y2="409"/><line x1="501" y1="404" x2="501" y2="409"/>
  <line x1="101" y1="420" x2="106" y2="420"/><line x1="101" y1="483.7" x2="106" y2="483.7"/><line x1="101" y1="547.4" x2="106" y2="547.4"/><line x1="101" y1="611" x2="106" y2="611"/>
  <line x1="601" y1="420" x2="596" y2="420"/><line x1="601" y1="483.7" x2="596" y2="483.7"/><line x1="601" y1="547.4" x2="596" y2="547.4"/><line x1="601" y1="611" x2="596" y2="611"/>
  <line x1="826" y1="675" x2="826" y2="670"/><line x1="925.6" y1="675" x2="925.6" y2="670"/><line x1="1025.4" y1="675" x2="1025.4" y2="670"/><line x1="1125.2" y1="675" x2="1125.2" y2="670"/>
  <line x1="826" y1="404" x2="826" y2="409"/><line x1="925.6" y1="404" x2="925.6" y2="409"/><line x1="1025.4" y1="404" x2="1025.4" y2="409"/><line x1="1125.2" y1="404" x2="1125.2" y2="409"/>
  <line x1="726" y1="449.2" x2="731" y2="449.2"/><line x1="726" y1="494.3" x2="731" y2="494.3"/><line x1="726" y1="539.5" x2="731" y2="539.5"/><line x1="726" y1="584.7" x2="731" y2="584.7"/><line x1="726" y1="629.8" x2="731" y2="629.8"/>
  <line x1="1225" y1="449.2" x2="1220" y2="449.2"/><line x1="1225" y1="494.3" x2="1220" y2="494.3"/><line x1="1225" y1="539.5" x2="1220" y2="539.5"/><line x1="1225" y1="584.7" x2="1220" y2="584.7"/><line x1="1225" y1="629.8" x2="1220" y2="629.8"/>
</g>

<g class="tk" text-anchor="end">
  <text transform="translate(90,77) scale(1.12,1)">40</text>
  <text transform="translate(90,141) scale(1.12,1)">80</text>
  <text transform="translate(90,205) scale(1.12,1)">120</text>
  <text transform="translate(90,269) scale(1.12,1)">160</text>
  <text transform="translate(90,333) scale(1.12,1)">200</text>

  <text transform="translate(713,62) scale(1.12,1)">100</text>
  <text transform="translate(713,106.4) scale(1.12,1)">150</text>
  <text transform="translate(713,151.8) scale(1.12,1)">200</text>
  <text transform="translate(713,197.3) scale(1.12,1)">250</text>
  <text transform="translate(713,242.7) scale(1.12,1)">300</text>
  <text transform="translate(713,288) scale(1.12,1)">350</text>
  <text transform="translate(713,333.5) scale(1.12,1)">400</text>

  <text transform="translate(90,429) scale(1.12,1)">40</text>
  <text transform="translate(90,492.7) scale(1.12,1)">80</text>
  <text transform="translate(90,556.4) scale(1.12,1)">120</text>
  <text transform="translate(90,620) scale(1.12,1)">160</text>
  <text transform="translate(90,684) scale(1.12,1)">200</text>

  <text transform="translate(713,414) scale(1.12,1)">100</text>
  <text transform="translate(713,458.2) scale(1.12,1)">150</text>
  <text transform="translate(713,503.3) scale(1.12,1)">200</text>
  <text transform="translate(713,548.5) scale(1.12,1)">250</text>
  <text transform="translate(713,593.7) scale(1.12,1)">300</text>
  <text transform="translate(713,638.8) scale(1.12,1)">350</text>
  <text transform="translate(713,684) scale(1.12,1)">400</text>
</g>
<g class="tk" text-anchor="middle">
  <text transform="translate(101,365) scale(1.12,1)">0</text>
  <text transform="translate(201,365) scale(1.12,1)">2</text>
  <text transform="translate(301,365) scale(1.12,1)">4</text>
  <text transform="translate(401,365) scale(1.12,1)">6</text>
  <text transform="translate(501,365) scale(1.12,1)">8</text>
  <text transform="translate(601,365) scale(1.12,1)">10</text>

  <text transform="translate(726,365) scale(1.12,1)">0</text>
  <text transform="translate(826,365) scale(1.12,1)">2</text>
  <text transform="translate(925.6,365) scale(1.12,1)">4</text>
  <text transform="translate(1025.4,365) scale(1.12,1)">6</text>
  <text transform="translate(1125.2,365) scale(1.12,1)">8</text>
  <text transform="translate(1225,365) scale(1.12,1)">10</text>

  <text transform="translate(101,716) scale(1.12,1)">0</text>
  <text transform="translate(201,716) scale(1.12,1)">2</text>
  <text transform="translate(301,716) scale(1.12,1)">4</text>
  <text transform="translate(401,716) scale(1.12,1)">6</text>
  <text transform="translate(501,716) scale(1.12,1)">8</text>
  <text transform="translate(601,716) scale(1.12,1)">10</text>

  <text transform="translate(726,716) scale(1.12,1)">0</text>
  <text transform="translate(826,716) scale(1.12,1)">2</text>
  <text transform="translate(925.6,716) scale(1.12,1)">4</text>
  <text transform="translate(1025.4,716) scale(1.12,1)">6</text>
  <text transform="translate(1125.2,716) scale(1.12,1)">8</text>
  <text transform="translate(1225,716) scale(1.12,1)">10</text>

  <text transform="translate(352,750) scale(1.12,1)">Time (day)</text>
  <text transform="translate(976,750) scale(1.12,1)">Time (day)</text>
  <text transform="translate(29,188) rotate(-90) scale(1.12,1)">Depth (m)</text>
  <text transform="translate(652,188) rotate(-90) scale(1.12,1)">Depth (m)</text>
  <text transform="translate(29,540) rotate(-90) scale(1.12,1)">Depth (m)</text>
  <text transform="translate(652,540) rotate(-90) scale(1.12,1)">Depth (m)</text>
</g>

<text class="pl" transform="translate(103,44.5) scale(1.12,1)">(a)</text>
<text class="pl" transform="translate(727,44.5) scale(1.12,1)">(b)</text>
<text class="pl" transform="translate(103,391.5) scale(1.12,1)">(c)</text>
<text class="pl" transform="translate(727,391.5) scale(1.12,1)">(d)</text>
<text class="bd" x="127" y="130">U2</text>
<text class="bd" x="750" y="130">D2</text>
<text class="bd" x="127" y="482.5">U2</text>
<text class="bd" x="750" y="483">D2</text>
</svg>
</body></html>
